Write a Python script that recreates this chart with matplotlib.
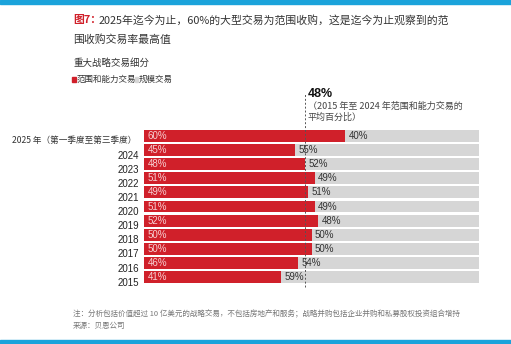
import matplotlib
matplotlib.use("Agg")
import matplotlib.pyplot as plt
from matplotlib.patches import Rectangle

plt.rcParams['font.family'] = ['Noto Sans CJK SC', 'DejaVu Sans']

# share of strategic deals: scope/capability vs scale
years = ["2025 年（第一季度至第三季度）", "2024", "2023", "2022", "2021", "2020",
         "2019", "2018", "2017", "2016", "2015"]
scope = [60, 45, 48, 51, 49, 51, 52, 50, 50, 46, 41]
scale = [40, 55, 52, 49, 51, 49, 48, 50, 50, 54, 59]
avg_scope = 48

red = "#D0202A"
grey = "#D6D6D6"
blue = "#1BA3DB"
W, H = 511, 344

fig = plt.figure(figsize=(W / 100, H / 100), dpi=100)
fig.patch.set_facecolor("white")

# blue bands top and bottom
fig.add_artist(Rectangle((0, 1 - 4 / H), 1, 4 / H, transform=fig.transFigure, color=blue))
fig.add_artist(Rectangle((0, 0), 1, 4 / H, transform=fig.transFigure, color=blue))

ax = fig.add_axes([144 / W, 1 - 284 / H, 335 / W, 155 / H])
pos = list(range(len(years)))
ax.barh(pos, scope, height=0.84, color=red)
ax.barh(pos, scale, left=scope, height=0.84, color=grey)
ax.set_xlim(0, 100)
ax.set_ylim(10.5, -0.5)
ax.axis("off")

for i in pos:
    ax.text(1, i, f"{scope[i]}%", color="#F6D0D2", fontsize=7, va="center", ha="left",
            family="Liberation Sans")
    ax.text(scope[i] + 1, i, f"{scale[i]}%", color="#333333", fontsize=7, va="center",
            ha="left", family="Liberation Sans")
    if i == 0:
        ax.text(-2.2, i + 0.3, years[i], color="#333333", fontsize=6.2, va="center", ha="right")
    else:
        ax.text(-1.5, i + 0.4, years[i], color="#222222", fontsize=7, va="center", ha="right",
                family="Liberation Sans")

# average line
ax.plot([avg_scope, avg_scope], [10.7, -3.0], color="#555555", lw=0.7,
        ls=(0, (2, 2)), clip_on=False)

ax.text(avg_scope + 1, -3.0, "48%", fontsize=9, fontweight="bold", color="#111111",
        va="center", ha="left", family="Liberation Sans")
ax.text(avg_scope + 1, -2.1, "（2015 年至 2024 年范围和能力交易的", fontsize=6.5,
        color="#444444", va="center", ha="left")
ax.text(avg_scope + 0.8, -1.3, "平均百分比）", fontsize=6.5, color="#444444",
        va="center", ha="left")

# titles
fig.text(73 / W, 1 - 20 / H, "图7：", color=red, fontsize=7.8, fontweight="bold", va="center")
fig.text(99 / W, 1 - 20 / H, "2025年迄今为止，60%的大型交易为范围收购，这是迄今为止观察到的范",
         color="#333333", fontsize=7.8, va="center")
fig.text(73 / W, 1 - 40 / H, "围收购交易率最高值", color="#333333", fontsize=7.8, va="center")
fig.text(73 / W, 1 - 63 / H, "重大战略交易细分", color="#333333", fontsize=6.8, va="center")

# legend
fig.add_artist(Rectangle((72 / W, 1 - 82 / H), 4 / W, 5 / H, transform=fig.transFigure, color=red))
fig.text(77 / W, 1 - 79 / H, "范围和能力交易", color="#333333", fontsize=6.1, va="center")
fig.add_artist(Rectangle((135 / W, 1 - 82 / H), 3 / W, 5 / H, transform=fig.transFigure, color=grey))
fig.text(139 / W, 1 - 79 / H, "规模交易", color="#333333", fontsize=6.1, va="center")

# footnote
fig.text(73 / W, 1 - 314 / H,
         "注：分析包括价值超过 10 亿美元的战略交易，不包括房地产和服务；战略并购包括企业并购和私募股权投资组合增持",
         color="#777777", fontsize=5.45, va="center")
fig.text(73 / W, 1 - 326 / H, "来源：贝恩公司", color="#777777", fontsize=5.45, va="center")

fig.savefig("out.png", dpi=100)
